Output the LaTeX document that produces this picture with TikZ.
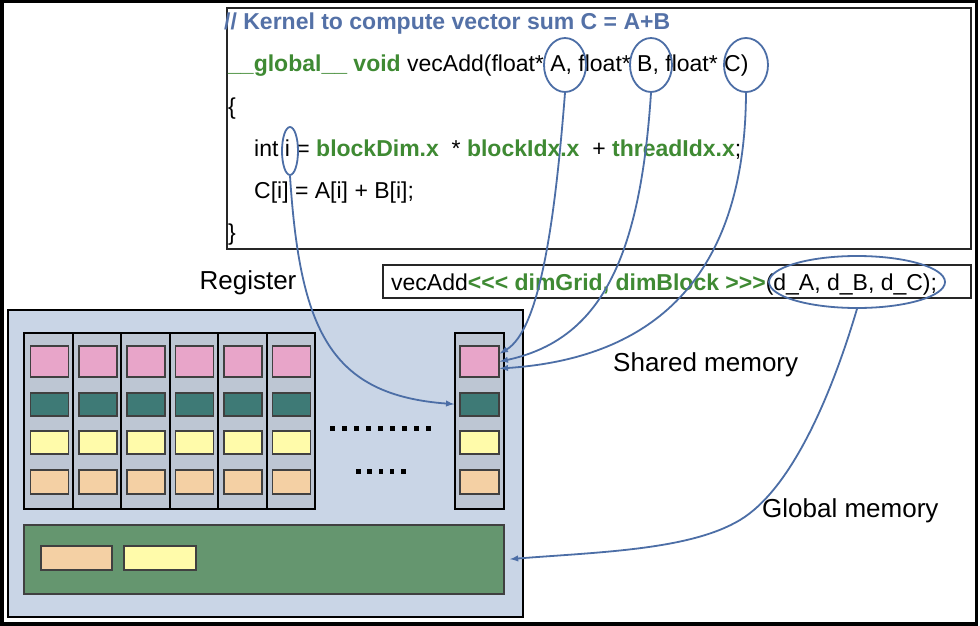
\documentclass[tikz,border=0pt]{standalone}
\usepackage{fontspec}
\setmainfont{Liberation Sans}
\usetikzlibrary{shapes.geometric}
\definecolor{cmtblue}{RGB}{84,113,167}
\definecolor{kwgreen}{RGB}{63,138,51}
\definecolor{linkblue}{RGB}{76,110,166}
\definecolor{smfill}{RGB}{201,213,230}
\definecolor{colfill}{RGB}{189,198,211}
\definecolor{regpink}{RGB}{232,165,201}
\definecolor{regteal}{RGB}{62,122,118}
\definecolor{regyellow}{RGB}{255,251,170}
\definecolor{regpeach}{RGB}{244,208,164}
\definecolor{gmgreen}{RGB}{101,150,111}
\begin{document}
\begin{tikzpicture}[x=1pt, y=-1pt, >=latex,
  code/.style={anchor=base west, inner sep=0pt, font=\fontsize{23}{28}\selectfont},
  lbl/.style={inner sep=0pt, font=\fontsize{26}{30}\selectfont},
  oval/.style={draw=linkblue, line width=1.8pt, ellipse, inner sep=0pt},
  cell/.style={draw=black!75, line width=1.6pt, inner sep=0pt},
  link/.style={->, draw=linkblue, line width=1.8pt}]

\useasboundingbox (0,0) rectangle (980,626);
\fill [white] (0,0) rectangle (980,626);
\draw [line width=3.5pt] (1.75,1.75) rectangle (976.25,623.75);

% Kernel source
\draw [line width=2pt, black!85] (227,8) rectangle (971,249);
\node [code, text=cmtblue, font=\fontsize{23}{28}\selectfont\bfseries] (cmt) at (224,30) {// Kernel to compute vector sum C = A+B};
\node [code] (sig) at (228,72) {\textcolor{kwgreen}{\bfseries \_\_global\_\_} \textcolor{kwgreen}{\bfseries void} vecAdd(float* A, float* B, float* C)};
\node [code] (lb) at (228,114) {\{};
\node [code] (ln1) at (254,156) {int i = \textcolor{kwgreen}{\bfseries blockDim.x}\ \ * \textcolor{kwgreen}{\bfseries blockIdx.x}\ \ + \textcolor{kwgreen}{\bfseries threadIdx.x};};
\node [code] (ln2) at (254,198) {C[i] = A[i] + B[i];};
\node [code] (rb) at (228,240) {\}};

% Marked arguments
\node [oval, minimum width=42, minimum height=54] (ovA) at (565,65) {};
\node [oval, minimum width=42, minimum height=54] (ovB) at (651,65) {};
\node [oval, minimum width=44, minimum height=54] (ovC) at (746,65) {};
\node [oval, minimum width=16, minimum height=48] (ovi) at (290,151) {};

% Launch line
\draw [line width=2pt, black!85] (383,265) rectangle (971,298);
\node [code] (call) at (391,290) {vecAdd\textcolor{kwgreen}{\bfseries {<}{<}{<} dimGrid, dimBlock {>}{>}{>}}(d\_A, d\_B, d\_C);};
\node [oval, minimum width=176, minimum height=52] (ovD) at (857,282) {};

% Labels
\node [lbl] (reg) at (248,283) {Register};
\node [lbl, anchor=west] (shm) at (613,365) {Shared memory};
\node [lbl, anchor=west] (glm) at (762,511) {Global memory};

% Streaming multiprocessor
\draw [fill=smfill, line width=2.8pt] (8,310) rectangle (523,617);
\foreach \c in {0,...,5} {
  \pgfmathsetmacro\xl{24.3+48.45*\c}
  \draw [fill=colfill, line width=2pt] (\xl,333) rectangle ++(48.45,176);
  \draw [cell, fill=regpink] (\xl+6,346) rectangle ++(38,31);
  \draw [cell, fill=regteal] (\xl+6,393) rectangle ++(38,23);
  \draw [cell, fill=regyellow] (\xl+6,431) rectangle ++(38,23);
  \draw [cell, fill=regpeach] (\xl+6,470) rectangle ++(38,24);
}

% Dots between the columns
\foreach \k in {0,...,8}
  \fill (330+12*\k,426) rectangle ++(4.5,4.5);
\foreach \k in {0,...,4}
  \fill (356+11.25*\k,469) rectangle ++(4.5,4.5);

% Last thread column
\draw [fill=colfill, line width=2pt] (455,333) rectangle (504,509);
\node [cell, fill=regpink, minimum width=39, minimum height=31] (sP) at (479.5,361.5) {};
\node [cell, fill=regteal, minimum width=39, minimum height=23] (sT) at (479.5,404.5) {};
\node [cell, fill=regyellow, minimum width=39, minimum height=23] (sY) at (479.5,442.5) {};
\node [cell, fill=regpeach, minimum width=39, minimum height=24] (sQ) at (479.5,482) {};

% Global memory
\node [cell, line width=2pt, fill=gmgreen, minimum width=480, minimum height=69] (gm) at (264,559.5) {};
\draw [cell, fill=regpeach] (41,546) rectangle (112,570);
\draw [cell, fill=regyellow] (124,546) rectangle (196,570);

% Connectors
\draw [link, shorten >=5pt] (ovi.south) .. controls (300,330) and (330,395) .. (sT.west);
\draw [link] (ovA.south) .. controls (555,220) and (540,330) .. ([yshift=8pt]sP.east);
\draw [link] (ovB.south) .. controls (640,260) and (600,340) .. (sP.east);
\draw [link] (ovC.south) .. controls (745,300) and (630,360) .. ([yshift=-7pt]sP.east);
\draw [link, shorten >=5pt] (ovD.south) .. controls (830,400) and (790,490) .. (740,520)
  .. controls (690,550) and (600,552) .. (gm.east);

\end{tikzpicture}
\end{document}
